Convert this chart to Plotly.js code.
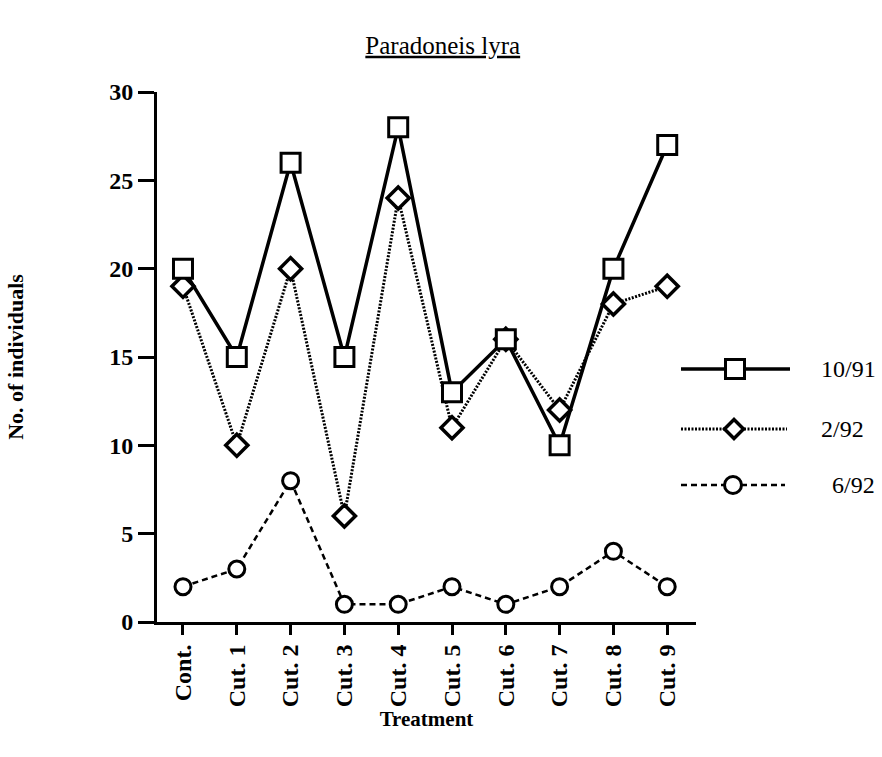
<!DOCTYPE html>
<html>
<head>
<meta charset="utf-8">
<script src="https://cdn.plot.ly/plotly-3.0.1.min.js"></script>
<style>html,body{margin:0;padding:0;background:#fff;}#chart{width:882px;height:757px;}</style>
</head>
<body>
<div id="chart"></div>
<script>
var categories = ["Cont.", "Cut. 1", "Cut. 2", "Cut. 3", "Cut. 4", "Cut. 5", "Cut. 6", "Cut. 7", "Cut. 8", "Cut. 9"];
var seriesNames = ["10/91", "2/92", "6/92"];
var oct91 = [20, 15, 26, 15, 28, 13, 16, 10, 20, 27];
var feb92 = [19, 10, 20, 6, 24, 11, 16, 12, 18, 19];
var jun92 = [2, 3, 8, 1, 1, 2, 1, 2, 4, 2];
var yTicks = [0, 5, 10, 15, 20, 25, 30];

var serif = "Liberation Serif, Times New Roman, serif";
var idx = categories.map(function(c, i){ return i; });
var DOT = "2px,1.5px", DASH = "6px,4px";

var traces = [
  {x: idx, y: jun92, name: seriesNames[2], mode: "lines+markers", cliponaxis: false,
   line: {color: "#000", width: 2.5, dash: DASH},
   marker: {symbol: "circle", size: 16, color: "#fff", line: {color: "#000", width: 3}}},
  {x: idx, y: feb92, name: seriesNames[1], mode: "lines+markers", cliponaxis: false,
   line: {color: "#000", width: 3, dash: DOT},
   marker: {symbol: "diamond", size: 17, color: "#fff", line: {color: "#000", width: 3.5}}},
  {x: idx, y: oct91, name: seriesNames[0], mode: "lines+markers", cliponaxis: false,
   line: {color: "#000", width: 3.5},
   marker: {symbol: "square", size: 19, color: "#fff", line: {color: "#000", width: 3}}}
];

// legend drawn in paper coordinates (plot area: x 157..696, y 92..622)
function px(x){ return (x - 157) / 539; }
function py(y){ return (622 - y) / 530; }
var legRows = [
  {y: 369, x0: 681, x1: 790, mx: 735, dash: "solid", w: 3.5, tx: 848, sym: "square"},
  {y: 429, x0: 681, x1: 787, mx: 734, dash: DOT, w: 3, tx: 842, sym: "diamond"},
  {y: 485, x0: 681, x1: 785, mx: 733, dash: DASH, w: 2.5, tx: 853, sym: "circle"}
];
var shapes = [], annotations = [];
legRows.forEach(function(r, i){
  shapes.push({type: "line", xref: "paper", yref: "paper", x0: px(r.x0), x1: px(r.x1), y0: py(r.y), y1: py(r.y),
    line: {color: "#000", width: r.w, dash: r.dash}});
  var base = {xref: "paper", yref: "paper", xsizemode: "pixel", ysizemode: "pixel",
    xanchor: px(r.mx), yanchor: py(r.y), fillcolor: "#fff", line: {color: "#000", width: 3}};
  var s = Object.assign({}, base);
  if (r.sym === "square") { s.type = "rect"; s.x0 = -9.5; s.x1 = 9.5; s.y0 = -9.5; s.y1 = 9.5; }
  else if (r.sym === "circle") { s.type = "circle"; s.x0 = -8.5; s.x1 = 8.5; s.y0 = -8.5; s.y1 = 8.5; }
  else { s.type = "path"; s.path = "M0,-9.5 L9.5,0 L0,9.5 L-9.5,0 Z"; s.line = {color: "#000", width: 3.5}; }
  shapes.push(s);
  annotations.push({xref: "paper", yref: "paper", x: px(r.tx), y: py(r.y), text: seriesNames[i],
    showarrow: false, xanchor: "center", yanchor: "middle",
    font: {family: serif, size: 24, color: "#000"}});
});

var layout = {
  width: 882, height: 757,
  paper_bgcolor: "#fff", plot_bgcolor: "#fff",
  margin: {l: 157, r: 186, t: 92, b: 135},
  showlegend: false,
  font: {family: serif, color: "#000"},
  title: {text: "<u>Paradoneis lyra</u>", x: 0.502, xref: "container", xanchor: "center",
    y: 1 - 45/757, yref: "container", yanchor: "middle",
    font: {family: serif, size: 25, color: "#000"}},
  xaxis: {
    range: [-0.483, 9.535], tickvals: idx, ticktext: categories, tickangle: -90,
    showgrid: false, zeroline: false, showline: true, linecolor: "#000", linewidth: 3,
    ticks: "outside", ticklen: 10, tickwidth: 3, tickcolor: "#000",
    tickfont: {family: serif, size: 24, color: "#000", weight: "bold"},
    title: {text: "Treatment", standoff: 6, font: {family: serif, size: 21, color: "#000", weight: "bold"}},
    automargin: false
  },
  yaxis: {
    range: [0, 30], tickvals: yTicks, ticktext: yTicks.map(String),
    showgrid: false, zeroline: false, showline: true, linecolor: "#000", linewidth: 3,
    ticks: "outside", ticklen: 16, tickwidth: 3, tickcolor: "#000",
    tickfont: {family: serif, size: 24, color: "#000", weight: "bold"},
    title: {text: "No. of individuals", standoff: 80, font: {family: serif, size: 22, color: "#000", weight: "bold"}},
    automargin: false
  },
  shapes: shapes,
  annotations: annotations
};

Plotly.newPlot("chart", traces, layout, {displayModeBar: false, staticPlot: true});
</script>
</body>
</html>
